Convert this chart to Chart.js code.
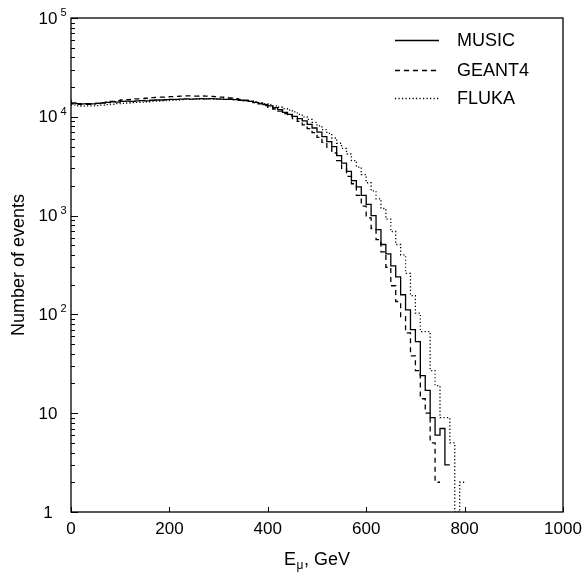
<!DOCTYPE html>
<html><head><meta charset="utf-8">
<script src="https://cdn.jsdelivr.net/npm/chart.js@4"></script>
<style>html,body{margin:0;padding:0;background:#fff;} canvas{display:block;}</style>
</head><body>
<canvas id="c" width="582" height="579"></canvas>
<script>
// Bin edges (GeV)
const binEdges = [0,10,20,30,40,50,60,70,80,90,100,110,120,130,140,150,160,170,180,190,200,
  210,220,230,240,250,260,270,280,290,300,310,320,330,340,350,360,370,380,390,400,
  410,420,430,440,450,460,470,480,490,500,510,520,530,540,550,560,570,580,590,600,
  610,620,630,640,650,660,670,680,690,700,710,720,730,740,750,760,770,780,790,800,810];

const music = [15000,13800,13600,13500,13600,13500,13700,13800,14000,14200,
  14100,14300,14400,14300,14500,14600,14500,14700,14800,14800,
  14900,15000,15000,15100,15200,15100,15200,15300,15200,15300,
  15200,15100,15000,15000,14900,14700,14600,14300,14000,13700,
  13300,12900,12400,11800,11100,10600,10100,9600,9100,8400,
  7700,7000,6300,5600,5000,4050,3400,2800,2260,1950,
  1600,1300,1000,720,510,410,310,240,158,111,
  70,53,24,17,9,6,7,3,0,0,0];

const geant4 = [14200,13500,13400,13300,13400,13500,13700,13900,14100,14300,
  14600,14800,14900,15000,15200,15300,15400,15600,15700,15800,
  15900,16000,16100,16200,16300,16300,16200,16300,16200,16100,
  16000,15800,15700,15500,15300,15000,14700,14300,13900,13500,
  13000,12500,12000,11400,10800,10200,9600,9000,8300,7600,
  6900,6200,5500,4900,4300,3600,3000,2500,2100,1600,
  1250,950,740,570,430,300,195,135,95,65,
  38,27,14,10,5,2,0,0,0,0,0];

const fluka = [14300,13100,12900,12800,12900,12900,13000,13100,13300,13400,
  13600,13700,13800,13900,14000,14100,14200,14300,14400,14500,
  14600,14700,14800,14900,15000,15000,15100,15100,15200,15200,
  15100,15100,15000,15000,14900,14800,14600,14400,14200,13900,
  13600,13300,12900,12500,12100,11700,11200,10600,10000,9400,
  8800,8100,7400,6800,6100,5400,4800,4200,3600,3100,
  2600,2150,1780,1480,1180,920,690,510,400,260,
  155,103,67,67,27,19,9,9,5,1,2];

const seriesNames = ['MUSIC', 'GEANT4', 'FLUKA'];
const xTicks = [0, 200, 400, 600, 800, 1000];
const yTickValues = [1, 10, 100, 1000, 10000, 100000];
const yTickBases = ['1', '10', '10', '10', '10', '10'];
const yTickExps = ['', '', '2', '3', '4', '5'];

const FONT = '"Liberation Sans", Arial, sans-serif';
const dashStyles = [[], [5, 4], [1.2, 2.3]];

function histPoints(vals) {
  let last = vals.length - 1;
  while (last >= 0 && vals[last] === 0) last--;
  const pts = [];
  for (let i = 0; i <= last; i++) pts.push({x: binEdges[i], y: vals[i]});
  pts.push({x: binEdges[last + 1], y: 0});
  return pts;
}

const decor = {
  id: 'decor',
  afterDatasetsDraw(chart) {
    const {ctx, chartArea: a, scales: {x, y}} = chart;
    ctx.save();
    ctx.setLineDash([]);
    ctx.strokeStyle = '#000';
    ctx.lineWidth = 1.3;
    ctx.strokeRect(a.left, a.top, a.right - a.left, a.bottom - a.top);
    // ticks
    ctx.lineWidth = 1;
    ctx.beginPath();
    for (let d = 0; d < yTickValues.length; d++) {
      const v = yTickValues[d];
      const py = Math.round(y.getPixelForValue(v)) + 0.5;
      ctx.moveTo(a.left, py); ctx.lineTo(a.left + 7, py);
      if (d < yTickValues.length - 1) {
        for (let m = 2; m <= 9; m++) {
          const pm = Math.round(y.getPixelForValue(v * m)) + 0.5;
          ctx.moveTo(a.left, pm); ctx.lineTo(a.left + 4, pm);
        }
      }
    }
    for (const v of xTicks) {
      const px = Math.round(x.getPixelForValue(v)) + 0.5;
      ctx.moveTo(px, a.bottom); ctx.lineTo(px, a.bottom - 5);
    }
    ctx.stroke();
    // y tick labels
    ctx.fillStyle = '#000';
    for (let d = 0; d < yTickValues.length; d++) {
      const py = y.getPixelForValue(yTickValues[d]);
      ctx.font = '17px ' + FONT;
      ctx.textAlign = 'center';
      ctx.textBaseline = 'middle';
      const cx = 48;
      ctx.fillText(yTickBases[d], cx, py + 1);
      if (yTickExps[d]) {
        const w = ctx.measureText(yTickBases[d]).width;
        ctx.font = '11px ' + FONT;
        ctx.textAlign = 'left';
        ctx.textBaseline = 'alphabetic';
        ctx.fillText(yTickExps[d], cx + w / 2 + 3, py - 2);
      }
    }
    // y title
    ctx.save();
    ctx.translate(19, (a.top + a.bottom) / 2);
    ctx.rotate(-Math.PI / 2);
    ctx.font = '18px ' + FONT;
    ctx.textAlign = 'center';
    ctx.textBaseline = 'middle';
    ctx.fillText('Number of events', 0, 0);
    ctx.restore();
    // x title: E_mu, GeV
    const cxT = (a.left + a.right) / 2;
    ctx.textAlign = 'left';
    ctx.textBaseline = 'alphabetic';
    ctx.font = '18px ' + FONT;
    const wE = ctx.measureText('E').width;
    const wRest = ctx.measureText(', GeV').width;
    ctx.font = '12px ' + FONT;
    const wMu = ctx.measureText('\u03bc').width;
    const total = wE + wMu + 1 + wRest;
    let sx = cxT - total / 2;
    const base = 565;
    ctx.font = '18px ' + FONT;
    ctx.fillText('E', sx, base);
    ctx.font = '12px ' + FONT;
    ctx.fillText('\u03bc', sx + wE + 0.5, base + 4);
    ctx.font = '18px ' + FONT;
    ctx.fillText(', GeV', sx + wE + wMu + 1, base);
    // legend
    const legY = [40.5, 70.5, 98.5];
    for (let i = 0; i < seriesNames.length; i++) {
      ctx.beginPath();
      ctx.setLineDash(dashStyles[i]);
      ctx.lineWidth = 1.3;
      ctx.moveTo(395, legY[i]); ctx.lineTo(439, legY[i]);
      ctx.stroke();
      ctx.setLineDash([]);
      ctx.font = '18px ' + FONT;
      ctx.textAlign = 'left';
      ctx.textBaseline = 'middle';
      ctx.fillText(seriesNames[i], 457, legY[i] + 1);
    }
    ctx.restore();
  }
};

const seriesData = [music, geant4, fluka];
new Chart(document.getElementById('c'), {
  type: 'line',
  data: {
    datasets: seriesData.map((vals, i) => ({
      label: seriesNames[i],
      data: histPoints(vals),
      borderColor: '#000',
      borderWidth: 1.3,
      borderDash: dashStyles[i],
      stepped: 'after',
      pointRadius: 0,
      fill: false
    }))
  },
  options: {
    responsive: false,
    animation: false,
    devicePixelRatio: 1,
    layout: { padding: { top: 18, right: 0, left: 0, bottom: 0 } },
    plugins: { legend: { display: false }, tooltip: { enabled: false } },
    scales: {
      x: {
        type: 'linear', min: 0, max: 1000,
        afterBuildTicks: s => { s.ticks = xTicks.map(v => ({value: v})); },
        ticks: { callback: v => String(v), font: { family: FONT, size: 17 }, color: '#000', padding: 7, maxRotation: 0 },
        grid: { display: false, drawTicks: false },
        border: { display: false },
        afterFit: s => { s.height = 67; s.paddingRight = 19; }
      },
      y: {
        type: 'logarithmic', min: 1, max: 100000,
        ticks: { display: false },
        grid: { display: false, drawTicks: false },
        border: { display: false },
        afterFit: s => { s.width = 71; }
      }
    }
  },
  plugins: [decor]
});
</script>
</body></html>
